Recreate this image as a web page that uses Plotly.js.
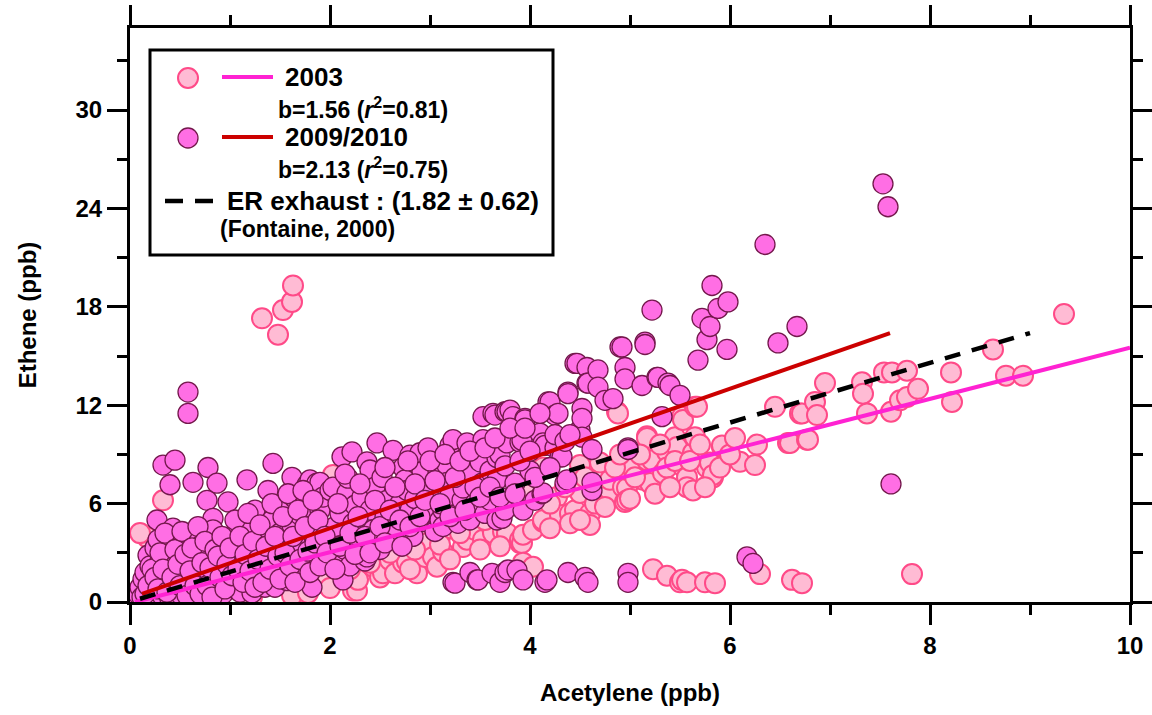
<!DOCTYPE html>
<html>
<head>
<meta charset="utf-8">
<script src="https://cdn.plot.ly/plotly-3.0.1.min.js"></script>
<style>html,body{margin:0;padding:0;background:#fff;}#chart{width:1152px;height:715px;}</style>
</head>
<body>
<div id="chart"></div>
<script>
// ---- 2003 observations (Acetylene x, Ethene y), ppb ----
const x2003 = [1.32,1.48,1.53,1.62,1.63,
 0.33,0.17,0.10,0.10,0.20,0.30,0.40,0.50,0.60,0.70,0.80,0.90,1.00,1.10,1.22,1.30,1.40,1.50,1.62,1.70,1.78,1.85,1.90,
 0.60,1.20,1.60,2.50,3.00,3.50,4.00,
 2.00,2.00,2.03,2.10,2.13,2.20,2.23,2.27,2.28,2.35,2.43,2.50,2.53,2.60,2.65,2.70,2.73,2.77,2.87,2.90,2.95,2.97,3.03,3.07,3.10,3.13,3.20,3.33,3.37,3.45,3.53,3.62,3.63,3.73,3.77,3.77,3.90,3.90,3.92,3.93,3.93,4.03,4.03,
 4.13,4.13,4.13,4.27,4.30,4.40,4.45,4.50,4.50,4.60,4.70,4.80,4.80,4.80,4.87,4.88,4.93,4.95,4.97,4.97,4.97,5.00,5.02,5.13,5.17,5.17,5.17,5.20,5.22,5.33,5.37,5.37,5.45,5.47,5.52,5.53,5.53,5.57,5.57,5.63,5.63,5.65,5.65,5.67,5.77,5.80,5.83,5.83,5.92,5.92,
 6.10,6.25,6.27,6.45,6.58,6.60,6.70,6.72,6.77,6.78,6.85,6.87,6.95,7.32,7.33,7.37,7.54,7.61,7.62,7.70,7.77,7.77,7.88,8.21,8.22,8.63,8.76,8.93,9.34,7.82,
 5.23,5.37,5.50,5.52,5.57,5.75,5.85,6.30,6.62,6.72,
 4.20,4.35,4.55,4.65,4.75,4.85,4.90,5.05,5.10,5.25,5.30,5.40,5.45,5.60,5.70,5.75,5.90,6.00,6.05,4.40,4.60,3.55,3.30,3.10,2.85,2.60,2.40,2.20,2.80,3.20,3.50,3.70,4.20,4.50];
const y2003 = [17.3,16.3,17.8,18.3,19.3,
 6.2,3.95,4.2,0.3,0.8,1.2,0.6,1.6,1.0,2.0,1.4,0.7,1.8,1.1,0.3,1.6,2.2,1.2,0.4,1.6,0.55,2.3,1.4,
 3.2,4.0,4.6,5.0,6.0,6.5,7.0,
 0.85,3.0,7.75,2.2,2.25,3.3,0.7,0.7,1.35,2.8,2.15,1.5,1.75,2.55,1.75,3.5,2.4,2.45,1.75,3.0,2.75,3.6,2.75,2.15,4.0,3.05,4.5,3.35,3.8,4.4,3.8,4.5,4.2,4.3,4.0,4.2,3.6,3.8,3.6,4.1,2.4,2.15,4.4,
 4.9,5.0,8.2,6.4,5.3,5.4,5.6,6.65,8.35,5.4,8.5,6.4,6.65,7.45,11.6,11.5,7.0,6.1,6.95,6.2,8.05,6.3,8.2,7.45,10.1,10.0,8.65,7.25,8.65,7.85,9.15,8.2,10.05,9.45,11.3,11.1,8.25,7.6,7.0,6.8,9.1,10.05,11.9,11.9,8.2,8.5,7.6,7.75,9.45,9.55,
 8.55,8.35,9.6,11.9,9.7,9.7,11.5,11.5,9.9,9.9,12.2,11.4,13.35,13.4,12.7,11.5,14.0,11.6,14.0,12.3,14.1,12.5,13.0,14.0,12.2,15.4,13.8,13.8,17.56,1.7,
 2.0,1.6,1.2,1.35,1.2,1.2,1.15,1.7,1.35,1.15,
 6.0,7.0,7.6,6.0,5.8,8.2,9.0,7.6,9.0,6.6,9.6,7.0,8.6,8.6,9.6,7.0,8.2,9.0,10.0,4.8,4.7,5.0,4.2,3.5,3.2,3.0,2.4,2.0,2.0,2.6,3.2,3.4,4.5,5.0];

// ---- 2009/2010 observations ----
const x2009 = [0.05,0.08,0.10,0.12,0.13,0.15,0.18,0.20,0.20,0.22,0.25,0.25,0.27,0.28,0.30,0.30,0.32,0.33,0.35,0.35,0.38,0.40,0.40,0.40,
 0.43,0.45,0.45,0.47,0.50,0.50,0.52,0.53,0.55,0.57,0.58,0.58,0.58,0.60,0.62,0.63,0.63,0.65,0.67,0.68,0.70,0.70,0.72,0.75,0.77,0.77,0.78,0.78,0.80,0.80,
 0.83,0.83,0.85,0.87,0.88,0.90,0.92,0.93,0.95,0.97,0.98,1.00,1.00,1.03,1.05,1.07,1.10,1.10,1.12,1.15,1.17,1.18,1.20,1.22,1.22,
 1.25,1.27,1.28,1.30,1.32,1.35,1.35,1.38,1.38,1.42,1.43,1.43,1.45,1.45,1.50,1.52,1.55,1.55,1.57,1.60,1.62,1.62,1.65,1.67,1.68,1.70,1.70,
 1.77,1.78,1.80,1.80,1.82,1.83,1.85,1.87,1.87,1.88,1.90,1.90,1.93,
 2.00,2.00,2.03,2.03,2.05,2.10,2.12,2.13,2.15,2.17,2.18,2.20,2.22,2.23,2.25,2.30,2.32,2.35,2.37,2.37,2.40,2.40,
 2.43,2.45,2.47,2.50,2.52,2.55,2.57,2.60,2.63,2.65,2.67,2.70,2.73,2.75,2.77,2.80,2.80,
 2.83,2.85,2.90,2.92,2.95,2.98,3.00,3.00,3.05,3.08,3.10,3.13,3.13,3.17,3.17,3.20,3.20,
 3.23,3.25,3.28,3.32,3.33,3.37,3.40,3.42,3.45,3.50,3.52,3.53,3.53,3.55,3.60,3.60,3.63,3.65,3.67,3.67,3.67,3.70,
 3.72,3.75,3.75,3.77,3.77,3.80,3.83,3.85,3.90,3.92,3.93,3.95,3.95,4.00,4.05,4.10,4.12,4.13,4.13,4.15,4.18,4.20,
 4.25,4.25,4.28,4.30,4.32,4.35,4.37,4.38,4.38,4.45,4.47,4.50,4.52,4.52,4.52,4.57,4.57,4.58,4.62,4.62,4.62,4.68,4.68,4.75,4.83,4.90,4.92,4.95,4.95,4.98,4.98,
 5.12,5.15,5.15,5.22,5.27,5.28,5.32,5.38,5.40,5.50,5.68,5.72,5.77,5.80,5.82,5.88,5.97,5.98,6.35,6.48,6.67,7.53,7.58,7.61,6.17,6.23,
 3.23,3.25,3.40,3.47,3.48,3.62,3.70,3.75,3.78,3.87,3.93,4.15,4.17,4.38,4.55,4.58,4.98,4.98,
 0.15,0.18,0.22,0.25,0.28,0.30,0.33,0.35,0.37,0.42,0.45,0.48,0.50,0.52,0.55,0.57,0.60,0.62,0.65,0.68,0.70,0.72,0.75,0.77,0.80,0.82,0.85,0.88,0.90,0.92,0.95,0.97,
 1.00,1.02,1.05,1.08,1.10,1.13,1.15,1.18,1.20,1.23,1.25,1.28,1.30,1.33,1.36,1.40,1.42,1.45,1.48,1.50,1.53,1.55,1.58,1.60,1.63,1.65,1.68,1.70,1.73,1.75,1.78,1.80,1.83,1.85,1.88,1.90,1.95,1.97,
 2.05,2.08,2.10,2.15,2.20,2.25,2.28,2.30,2.35,2.40,2.45,2.50,2.55,2.55,2.60,2.65,2.70,2.72,2.78,2.80,2.85,2.90,2.95,3.00,3.05,3.10,3.15,3.20,3.25,3.30,3.35,3.40,3.45,3.50,3.55,3.60,3.65,3.70,3.75,3.80,3.85,3.90,3.95,4.00,4.05,4.10,4.20,4.25,4.35,4.40];
const y2009 = [0.1,0.5,0.9,0.3,1.4,1.8,2.85,0.6,2.2,1.2,0.1,3.3,5.0,3.8,1.6,2.5,0.4,8.35,1.0,1.75,2.9,7.15,0.2,3.5,
 4.5,8.65,2.55,1.3,0.5,2.0,3.1,3.9,0.9,1.6,12.8,11.5,2.6,0.2,1.2,7.3,3.95,2.2,0.6,2.85,1.8,3.4,0.3,1.4,6.2,2.5,8.2,1.95,0.8,3.1,
 5.1,4.4,2.1,7.25,1.2,3.6,2.55,0.5,1.7,3.0,6.1,2.2,0.9,4.0,1.35,2.7,3.0,0.6,1.9,4.5,7.45,3.4,2.4,0.55,1.4,
 5.6,3.0,1.5,2.1,3.8,4.3,0.9,6.8,2.6,5.0,8.45,3.3,0.9,1.8,4.2,2.3,5.8,3.6,1.3,2.9,7.6,4.7,6.3,2.0,1.75,3.5,5.3,
 7.15,5.8,7.45,2.7,0.9,4.1,4.4,7.25,2.55,3.3,5.6,7.3,6.4,
 6.8,3.8,2.75,7.0,4.6,5.4,8.85,1.35,3.2,6.65,7.55,2.2,9.15,4.8,5.9,3.6,6.4,2.5,2.75,8.55,8.05,5.6,
 4.4,7.0,9.7,3.2,7.6,5.2,6.2,3.8,9.25,4.8,4.4,6.0,8.2,7.45,6.8,5.6,8.95,
 4.0,6.3,9.1,7.95,4.9,9.4,6.95,5.5,4.3,8.0,5.0,5.6,4.6,8.35,7.3,9.55,6.5,
 9.9,5.3,4.8,6.2,6.95,9.7,5.0,7.8,6.0,8.55,7.25,11.3,9.9,5.4,6.2,8.0,11.5,11.4,8.8,7.45,5.0,9.0,
 5.1,5.6,11.6,9.7,11.6,11.7,11.3,7.25,9.75,9.85,5.6,11.2,11.1,8.0,6.2,10.3,6.6,9.7,6.65,9.55,12.2,12.2,
 11.4,9.4,11.5,8.85,8.85,7.25,7.45,12.8,12.7,14.55,14.55,10.5,11.8,11.2,10.05,14.3,13.35,13.35,9.3,6.8,7.3,14.15,13.1,12.3,12.4,15.55,15.55,14.3,13.6,9.4,9.3,
 13.2,15.85,15.7,17.8,13.7,13.7,11.3,13.35,13.2,12.6,14.75,17.3,16.0,16.8,19.3,17.9,15.4,18.3,21.8,15.8,16.8,25.5,24.1,7.2,2.75,2.35,
 1.2,1.15,1.8,1.35,1.35,1.75,1.2,1.8,1.95,1.95,1.35,1.2,1.35,1.8,1.5,1.2,1.75,1.2,
 0.5,1.0,2.0,1.5,0.8,3.0,2.0,4.2,0.6,1.5,3.2,2.3,1.0,4.3,2.9,0.4,1.9,3.3,1.0,4.6,0.5,2.4,3.7,1.0,2.1,0.3,3.2,2.8,1.5,4.0,0.8,2.3,
 3.3,1.6,5.0,2.0,4.0,1.2,2.9,5.4,1.9,3.7,0.9,2.6,4.7,1.2,3.4,2.0,6.0,4.0,2.8,1.4,5.2,3.0,6.6,2.2,4.0,1.2,5.6,2.6,6.8,4.6,3.1,1.8,6.2,3.6,5.0,2.2,4.0,3.0,
 2.0,6.0,3.4,7.8,4.2,2.9,5.2,7.2,4.0,3.0,6.2,4.6,8.2,3.6,5.6,7.0,5.0,3.4,8.6,4.6,7.2,5.2,6.2,8.6,7.4,6.0,9.0,5.2,7.6,8.6,5.6,9.2,7.0,6.4,9.4,7.0,10.0,6.4,8.3,10.6,6.6,8.6,10.6,9.2,7.6,11.5,8.2,10.2,9.8,10.2];

// ---- regression / reference lines (end points) ----
const fit2003X = [0.05, 10.0];
const fit2003Y = [0.0, 15.5];
const fit2009X = [0.12, 7.6];
const fit2009Y = [0.5, 16.4];
const erX = [0.1, 9.0];
const erY = [0.2, 16.4];

// ---- axes ----
const xTicks = [0, 2, 4, 6, 8, 10];
const yTicks = [0, 6, 12, 18, 24, 30];

// ---- legend text ----
const labels = {
  s2003: '2003',
  b2003: 'b=1.56 (<i>r</i><sup>2</sup>=0.81)',
  s2009: '2009/2010',
  b2009: 'b=2.13 (<i>r</i><sup>2</sup>=0.75)',
  er: 'ER exhaust : (1.82 ± 0.62)',
  src: '(Fontaine, 2000)'
};

const FONT = 'Liberation Sans, Arial, Helvetica, sans-serif';
const C2003 = {fill: '#FFBBD4', line: '#FF4A88'};
const C2009 = {fill: '#FF6EE4', line: '#74184C'};
const LINE2003 = '#FF22D2';
const LINE2009 = '#CC0000';

const traces = [
  {x: x2003, y: y2003, mode: 'markers', type: 'scatter', name: '2003',
   marker: {size: 20, color: C2003.fill, line: {color: C2003.line, width: 2}}, showlegend: false},
  {x: x2009, y: y2009, mode: 'markers', type: 'scatter', name: '2009/2010',
   marker: {size: 20, color: C2009.fill, line: {color: C2009.line, width: 1.3}}, showlegend: false},
  {x: fit2003X, y: fit2003Y, mode: 'lines', type: 'scatter', line: {color: LINE2003, width: 4}, showlegend: false},
  {x: fit2009X, y: fit2009Y, mode: 'lines', type: 'scatter', line: {color: LINE2009, width: 4}, showlegend: false},
  {x: erX, y: erY, mode: 'lines', type: 'scatter', line: {color: '#000', width: 4.5, dash: '16px,12px'}, showlegend: false}
];

// paper coordinate helpers for legend (plot area: left 130, right 1130, top 28, bottom 602)
const px = v => (v - 130) / 1000;
const py = v => (602 - v) / 574;

const shapes = [
  {type: 'rect', xref: 'paper', yref: 'paper', x0: px(150), x1: px(553), y0: py(255), y1: py(50),
   line: {color: '#000', width: 3}, fillcolor: '#fff', layer: 'above'},
  {type: 'circle', xref: 'paper', yref: 'paper', xsizemode: 'pixel', ysizemode: 'pixel',
   xanchor: px(188), yanchor: py(78), x0: -10, x1: 10, y0: -10, y1: 10,
   fillcolor: C2003.fill, line: {color: C2003.line, width: 2}, layer: 'above'},
  {type: 'line', xref: 'paper', yref: 'paper', x0: px(222), x1: px(273), y0: py(77), y1: py(77),
   line: {color: LINE2003, width: 4}, layer: 'above'},
  {type: 'circle', xref: 'paper', yref: 'paper', xsizemode: 'pixel', ysizemode: 'pixel',
   xanchor: px(188), yanchor: py(138), x0: -10, x1: 10, y0: -10, y1: 10,
   fillcolor: C2009.fill, line: {color: C2009.line, width: 1.3}, layer: 'above'},
  {type: 'line', xref: 'paper', yref: 'paper', x0: px(222), x1: px(273), y0: py(137), y1: py(137),
   line: {color: LINE2009, width: 4}, layer: 'above'},
  {type: 'line', xref: 'paper', yref: 'paper', x0: px(165), x1: px(213), y0: py(201), y1: py(201),
   line: {color: '#000', width: 4.5, dash: '18px,12px'}, layer: 'above'}
];

const ann = (text, x, y, size) => ({text: text, xref: 'paper', yref: 'paper', x: px(x), y: py(y),
  xanchor: 'left', yanchor: 'middle', showarrow: false, font: {family: FONT, size: size, color: '#000', weight: 'bold'}});

const annotations = [
  ann(labels.s2003, 283, 77, 26),
  ann(labels.b2003, 276, 108, 23),
  ann(labels.s2009, 283, 137, 26),
  ann(labels.b2009, 276, 168, 23),
  ann(labels.er, 225, 201, 26),
  ann(labels.src, 218, 229, 23)
];

const axisCommon = {
  showline: true, linecolor: '#000', linewidth: 3, mirror: 'allticks',
  ticks: 'outside', ticklen: 20, tickwidth: 3, tickcolor: '#000',
  showgrid: false, zeroline: false, automargin: false,
  tickfont: {family: FONT, size: 24, color: '#000', weight: 'bold'}
};

const layout = {
  width: 1152, height: 715,
  margin: {l: 130, r: 22, t: 28, b: 113},
  paper_bgcolor: '#fff', plot_bgcolor: '#fff',
  font: {family: FONT},
  xaxis: Object.assign({}, axisCommon, {
    range: [0, 10], tickvals: xTicks, ticktext: xTicks.map(String),
    minor: {dtick: 1, tick0: 0, ticks: 'outside', ticklen: 10, tickwidth: 3, tickcolor: '#000'},
    title: {text: 'Acetylene (ppb)', font: {family: FONT, size: 24, color: '#000', weight: 'bold'}, standoff: 27}
  }),
  yaxis: Object.assign({}, axisCommon, {
    range: [0, 35], tickvals: yTicks, ticktext: yTicks.map(String),
    minor: {dtick: 3, tick0: 0, ticks: 'outside', ticklen: 10, tickwidth: 3, tickcolor: '#000'},
    title: {text: 'Ethene (ppb)', font: {family: FONT, size: 24, color: '#000', weight: 'bold'}, standoff: 33}
  }),
  shapes: shapes,
  annotations: annotations,
  showlegend: false
};

Plotly.newPlot('chart', traces, layout, {displayModeBar: false, staticPlot: true});
</script>
</body>
</html>
